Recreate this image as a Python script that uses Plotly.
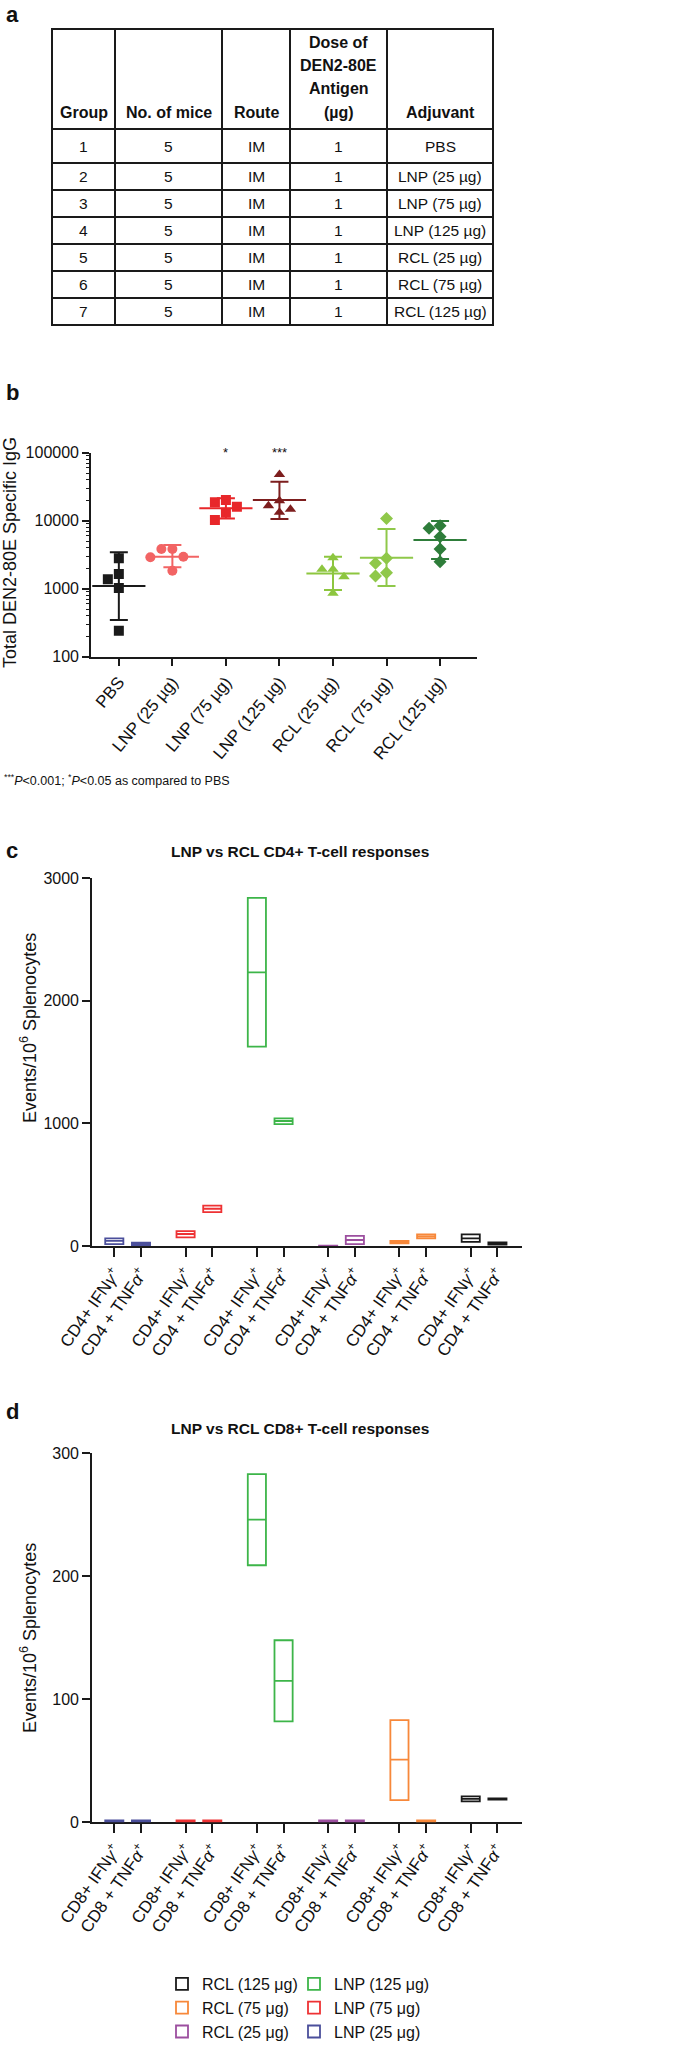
import numpy as np
import plotly.graph_objects as go

W, H = 675, 2052
NARROW = "Liberation Sans Narrow, Arial Narrow, Liberation Sans, Arial"
REG = "Liberation Sans, Arial, Helvetica"

# ---------------- DATA ----------------
# Panel a (table)
table_headers = ["Group", "No. of mice", "Route", "Dose of<br>DEN2-80E<br>Antigen<br>(µg)", "Adjuvant"]
col_group = ["1", "2", "3", "4", "5", "6", "7"]
col_mice = ["5", "5", "5", "5", "5", "5", "5"]
col_route = ["IM", "IM", "IM", "IM", "IM", "IM", "IM"]
col_dose = ["1", "1", "1", "1", "1", "1", "1"]
col_adjuvant = ["PBS", "LNP (25 µg)", "LNP (75 µg)", "LNP (125 µg)", "RCL (25 µg)", "RCL (75 µg)", "RCL (125 µg)"]

# Panel b (Total DEN2-80E specific IgG, individual mice)
igg_categories = ["PBS", "LNP (25 µg)", "LNP (75 µg)", "LNP (125 µg)", "RCL (25 µg)", "RCL (75 µg)", "RCL (125 µg)"]
igg_pbs = [2800, 1640, 1380, 1020, 240]
igg_lnp25 = [3840, 3840, 2950, 2900, 1840]
igg_lnp75 = [20100, 18600, 16100, 13100, 10200]
igg_lnp125 = [47800, 19700, 16600, 14700, 13300]
igg_rcl25 = [2860, 1930, 1930, 1500, 855]
igg_rcl75 = [10800, 2800, 2370, 1720, 1540]
igg_rcl125 = [8430, 7730, 5820, 3840, 2500]
igg_center = [1100, 2950, 15200, 20100, 1680, 2860, 5200]
igg_upper = [3430, 4400, 21400, 37500, 2950, 7550, 9900]
igg_lower = [347, 2070, 10800, 10600, 955, 1100, 2740]
igg_signif = ["", "", "*", "***", "", "", ""]

# Panels c / d (floating bars: min, mean, max) ; series order = group order
tcell_series = ["LNP (25 µg)", "LNP (75 µg)", "LNP (125 µg)", "RCL (25 µg)", "RCL (75 µg)", "RCL (125 µg)"]
cd4_labels = ["CD4+ IFN<i>γ</i><sup>+</sup>", "CD4 + TNF<i>α</i><sup>+</sup>"]
cd8_labels = ["CD8+ IFN<i>γ</i><sup>+</sup>", "CD8 + TNF<i>α</i><sup>+</sup>"]
cd4_low = [[16, 8], [71, 277], [1626, 995], [0, 16], [22, 63], [33, 11]]
cd4_mean = [[41, 17], [98, 304], [2232, 1020], [1, 49], [32, 79], [63, 20]]
cd4_high = [[63, 27], [122, 329], [2841, 1042], [3, 82], [41, 95], [95, 30]]
cd8_low = [[0, 0], [0, 0], [209, 82], [0, 0], [18, 0], [17, 18.5]]
cd8_mean = [[0.7, 0.7], [0.7, 0.7], [246, 115], [0.7, 0.7], [51, 0.7], [19, 19]]
cd8_high = [[1.5, 1.5], [1.5, 1.5], [283, 148], [1.5, 1.5], [83, 1.5], [21, 19.5]]

# ---------------- STYLE ----------------
igg_colors = ["#1a1a1a", "#f26464", "#e8272a", "#7d1e1e", "#8dc63f", "#8fc84a", "#2e7d3a"]
igg_symbols = ["square", "circle", "square", "triangle-up", "triangle-up", "diamond", "diamond"]
tcell_colors = ["#4b4f9b", "#ee3234", "#3db549", "#9c4f9f", "#f7883a", "#1a1a1a"]
legend_order = [5, 4, 3, 2, 1, 0]
TXT = "#111111"


def px(x):
    return x / W


def py(y):
    return 1 - y / H


fig = go.Figure()

# ---------------- PANEL A: table ----------------
tab_left, tab_right = 52, 493
col_edges = [52, 115, 222, 290, 387, 493]
tab_top, head_bot, row1_bot, row_h = 29, 129, 163, 27
row_edges = [head_bot, row1_bot] + [row1_bot + row_h * (i + 1) for i in range(len(col_group) - 1)]
line_style = dict(color="#1a1a1a", width=2)
shapes = []
for yy in [tab_top] + row_edges:
    shapes.append(dict(type="line", xref="paper", yref="paper", x0=px(tab_left - 1), x1=px(tab_right + 1),
                       y0=py(yy), y1=py(yy), line=line_style))
for xx in col_edges:
    shapes.append(dict(type="line", xref="paper", yref="paper", x0=px(xx), x1=px(xx),
                       y0=py(tab_top), y1=py(row_edges[-1]), line=line_style))

annotations = []
HEAD_LINE = 23.3
for j, htxt in enumerate(table_headers):
    cx = (col_edges[j] + col_edges[j + 1]) / 2
    lines = htxt.split("<br>")
    for k, ln in enumerate(reversed(lines)):
        annotations.append(dict(x=px(cx), y=py(head_bot - 17 - HEAD_LINE * k), xref="paper", yref="paper",
                                text="<b>%s</b>" % ln, showarrow=False, xanchor="center", yanchor="middle",
                                font=dict(family=NARROW, size=16, color=TXT)))
columns = [col_group, col_mice, col_route, col_dose, col_adjuvant]
for j, col in enumerate(columns):
    cx = (col_edges[j] + col_edges[j + 1]) / 2
    for i, val in enumerate(col):
        cy = (row_edges[i] + row_edges[i + 1]) / 2
        annotations.append(dict(x=px(cx), y=py(cy), xref="paper", yref="paper", text=val, showarrow=False,
                                xanchor="center", yanchor="middle", font=dict(family=NARROW, size=15.5, color=TXT)))

# ---------------- PANEL B ----------------
b_x0, b_x1, b_ytop, b_ybot = 91, 477, 452.7, 656.7
b_range_x = [-0.52, 6.69]
b_range_y = [2, 5]
unit_px = (b_x1 - b_x0) / (b_range_x[1] - b_range_x[0])
decade_px = (b_ybot - b_ytop) / (b_range_y[1] - b_range_y[0])


def swarm(vals, d_px=11.0, size_px=10.0):
    order = np.argsort(-np.array(vals, dtype=float), kind="stable")
    placed, offs = [], [0.0] * len(vals)
    for i in order:
        yv = np.log10(vals[i]) * decade_px
        chosen = 0.0
        for c in [0.0, -d_px, d_px, -2 * d_px, 2 * d_px]:
            if all(np.hypot(c - p0, yv - p1) >= size_px for p0, p1 in placed):
                chosen = c
                break
        placed.append((chosen, yv))
        offs[i] = chosen / unit_px
    return offs


igg_points = [igg_pbs, igg_lnp25, igg_lnp75, igg_lnp125, igg_rcl25, igg_rcl75, igg_rcl125]
for g, vals in enumerate(igg_points):
    offs = swarm(vals)
    fig.add_trace(go.Scatter(x=[g + o for o in offs], y=vals, mode="markers", xaxis="x", yaxis="y",
                             marker=dict(symbol=igg_symbols[g], size=10, color=igg_colors[g], line=dict(width=0)),
                             showlegend=False, hoverinfo="y"))
    fig.add_trace(go.Scatter(x=[g], y=[igg_center[g]], mode="markers", xaxis="x", yaxis="y",
                             marker=dict(symbol="line-ew", size=38, color=igg_colors[g],
                                         line=dict(width=2, color=igg_colors[g])),
                             error_y=dict(type="data", symmetric=False,
                                          array=[igg_upper[g] - igg_center[g]],
                                          arrayminus=[igg_center[g] - igg_lower[g]],
                                          width=9, thickness=2, color=igg_colors[g]),
                             showlegend=False, hoverinfo="y"))
    if igg_signif[g]:
        annotations.append(dict(x=g, y=5.0, xref="x", yref="y", text=igg_signif[g], showarrow=False,
                                yanchor="middle", font=dict(family=REG, size=13, color=TXT)))

# ---------------- PANELS C & D ----------------
GROUP_STEP = 2.67
BOX_W = 0.68
for s, name in enumerate(tcell_series):
    xs = [s * GROUP_STEP + k for k in (0, 1)]
    leg = "legend" if name.startswith("RCL") else "legend2"
    for (lo, me, hi, xa, ya, show) in [(cd4_low, cd4_mean, cd4_high, "x2", "y2", True),
                                       (cd8_low, cd8_mean, cd8_high, "x3", "y3", False)]:
        fig.add_trace(go.Box(x=xs, q1=lo[s], median=me[s], q3=hi[s], lowerfence=lo[s], upperfence=hi[s],
                             width=BOX_W, whiskerwidth=0, fillcolor="rgba(255,255,255,0)",
                             line=dict(color=tcell_colors[s], width=1.8), boxpoints=False,
                             name=name.replace("µ", "μ"), legend=leg, legendgroup=name,
                             legendrank=legend_order.index(s) + 1,
                             showlegend=show, xaxis=xa, yaxis=ya, hoverinfo="y"))

tick_pos = [s * GROUP_STEP + k for s in range(len(tcell_series)) for k in (0, 1)]
cd4_ticktext = [cd4_labels[k] for s in range(len(tcell_series)) for k in (0, 1)]
cd8_ticktext = [cd8_labels[k] for s in range(len(tcell_series)) for k in (0, 1)]
cd_x_range = [-0.835, 15.27]

axis_common = dict(showgrid=False, zeroline=False, showline=True, linecolor="#1a1a1a", linewidth=1.6,
                   ticks="outside", tickcolor="#1a1a1a", tickwidth=1.6, automargin=False)

layout_axes = dict(
    xaxis=dict(domain=[px(b_x0), px(b_x1)], anchor="y", range=b_range_x, tickmode="array",
               tickvals=list(range(len(igg_categories))), ticktext=igg_categories, tickangle=-50, ticklen=7,
               tickfont=dict(family=REG, size=17, color=TXT), **axis_common),
    yaxis=dict(domain=[py(b_ybot), py(b_ytop)], anchor="x", type="log", range=b_range_y, dtick=1,
               tickformat="d", ticklen=7, tickfont=dict(family=NARROW, size=16, color=TXT),
               minor=dict(ticks="outside", ticklen=3, dtick="D1", tickcolor="#1a1a1a", tickwidth=1),
               **axis_common),
    xaxis2=dict(domain=[px(92), px(522)], anchor="y2", range=cd_x_range, tickmode="array", tickvals=tick_pos,
                ticktext=cd4_ticktext, tickangle=-55, ticklen=9, layer="below traces",
                tickfont=dict(family=REG, size=17, color=TXT), **axis_common),
    yaxis2=dict(domain=[py(1246), py(878.3)], anchor="x2", range=[0, 3000], dtick=1000, ticklen=8,
                tickfont=dict(family=NARROW, size=16, color=TXT), **axis_common),
    xaxis3=dict(domain=[px(92), px(522)], anchor="y3", range=cd_x_range, tickmode="array", tickvals=tick_pos,
                ticktext=cd8_ticktext, tickangle=-55, ticklen=9, layer="below traces",
                tickfont=dict(family=REG, size=17, color=TXT), **axis_common),
    yaxis3=dict(domain=[py(1822.3), py(1453.3)], anchor="x3", range=[0, 300], dtick=100, ticklen=8,
                tickfont=dict(family=NARROW, size=16, color=TXT), **axis_common),
)

# Panel letters, titles, axis titles, footnote
for letter, yy in [("a", 15), ("b", 392), ("c", 850), ("d", 1411)]:
    annotations.append(dict(x=px(4), y=py(yy), xref="paper", yref="paper", text="<b>%s</b>" % letter,
                            showarrow=False, xanchor="left", yanchor="middle",
                            font=dict(family=REG, size=22, color=TXT)))
for ttl, yy in [("LNP vs RCL CD4+ T-cell responses", 851.5), ("LNP vs RCL CD8+ T-cell responses", 1428)]:
    annotations.append(dict(x=px(300), y=py(yy), xref="paper", yref="paper", text="<b>%s</b>" % ttl,
                            showarrow=False, xanchor="center", yanchor="middle",
                            font=dict(family=NARROW, size=15.5, color=TXT)))
for ttl, xx, yy in [("Total DEN2-80E Specific IgG", 10, 553),
                    ("Events/10<sup>6</sup> Splenocytes", 28, 1028),
                    ("Events/10<sup>6</sup> Splenocytes", 28, 1638)]:
    annotations.append(dict(x=px(xx), y=py(yy), xref="paper", yref="paper", text=ttl, textangle=-90,
                            showarrow=False, xanchor="center", yanchor="middle",
                            font=dict(family=REG, size=18, color=TXT)))
annotations.append(dict(x=px(2), y=py(780), xref="paper", yref="paper",
                        text="<sup>***</sup><i>P</i>&lt;0.001; <sup>*</sup><i>P</i>&lt;0.05 as compared to PBS",
                        showarrow=False, xanchor="left", yanchor="middle",
                        font=dict(family=NARROW, size=12.5, color=TXT)))

legend_style = dict(xanchor="left", yanchor="top", bgcolor="rgba(0,0,0,0)", traceorder="grouped",
                    tracegroupgap=0, font=dict(family=REG, size=16, color=TXT), itemclick=False)

fig.update_layout(
    template="none",
    width=W, height=H, margin=dict(l=0, r=0, t=0, b=0, pad=0, autoexpand=False),
    paper_bgcolor="white", plot_bgcolor="white",
    boxmode="overlay", shapes=shapes, annotations=annotations,
    legend=dict(x=px(162), y=py(1967), **legend_style),
    legend2=dict(x=px(294), y=py(1967), **legend_style),
    **layout_axes,
)

# remove the browser's default 8 px body margin so the figure sits at the window origin
fig.write_html("out.html", config={"displayModeBar": False},
               post_script="document.body.style.margin='0px';")
